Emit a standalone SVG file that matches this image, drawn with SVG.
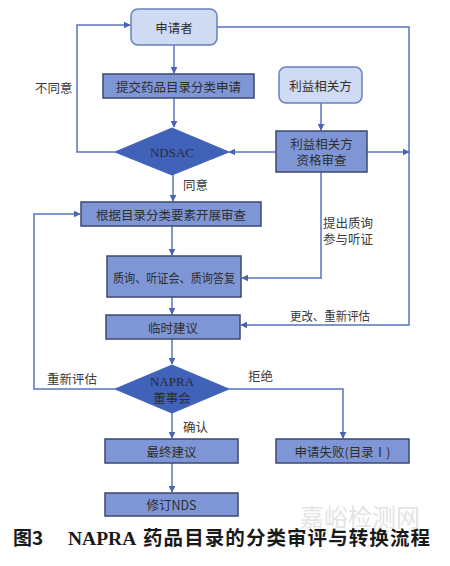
<svg xmlns="http://www.w3.org/2000/svg" width="450" height="566" viewBox="0 0 450 566">
<defs>
<marker id="ah" viewBox="0 0 10 10" refX="9" refY="5" markerWidth="7" markerHeight="7" markerUnits="userSpaceOnUse" orient="auto">
<path d="M0,0 L10,5 L0,10 Z" fill="#4a64b4"/>
</marker>
<style>
.light{fill:#cfdbf2;stroke:#6a7fc0;stroke-width:1.5}
.mid{fill:#7e96d6;stroke:#3b4770;stroke-width:1.5}
.dia{fill:#4062b8;stroke:#4062b8}
.t{font-family:"Noto Sans CJK SC","Liberation Serif",serif;font-size:12.5px;fill:#2f2f2f;text-anchor:middle;dominant-baseline:central}
.tl{font-family:"Noto Sans CJK SC","Liberation Serif",serif;font-size:12.5px;fill:#3a3a3a;dominant-baseline:central}
.en{font-family:"Liberation Serif","Noto Sans CJK SC",serif;font-size:13px;fill:#2a2a3a;text-anchor:middle;dominant-baseline:central}
.ln{fill:none;stroke:#5a73c0;stroke-width:1.5}
</style>
</defs>
<rect width="450" height="566" fill="#ffffff"/>

<g id="connectors">
<path class="ln" d="M174,45 V73" marker-end="url(#ah)"/>
<path class="ln" d="M174,98 V127" marker-end="url(#ah)"/>
<path class="ln" d="M217,27 H409 V325 H241" marker-end="url(#ah)"/>
<path class="ln" d="M321,103 V130" marker-end="url(#ah)"/>
<path class="ln" d="M276,152 H229" marker-end="url(#ah)"/>
<path class="ln" d="M367,152 H409" marker-end="url(#ah)"/>
<path class="ln" d="M115,152 H77 V25 H130" marker-end="url(#ah)"/>
<path class="ln" d="M173,175 V201" marker-end="url(#ah)"/>
<path class="ln" d="M172,226 V255" marker-end="url(#ah)"/>
<path class="ln" d="M321,172 V278 H242" marker-end="url(#ah)"/>
<path class="ln" d="M172,297 V314" marker-end="url(#ah)"/>
<path class="ln" d="M172,339 V364" marker-end="url(#ah)"/>
<path class="ln" d="M115,389 H34 V214 H80" marker-end="url(#ah)"/>
<path class="ln" d="M229,389 H343 V438" marker-end="url(#ah)"/>
<path class="ln" d="M172,413 V438" marker-end="url(#ah)"/>
<path class="ln" d="M172,463 V492" marker-end="url(#ah)"/>
</g>

<g id="labels">
<text class="tl" x="35" y="87">不同意</text>
<text class="tl" x="183" y="184">同意</text>
<text class="tl" x="323" y="222">提出质询</text>
<text class="tl" x="323" y="238">参与听证</text>
<text class="tl" x="290" y="315" textLength="80" lengthAdjust="spacingAndGlyphs">更改、重新评估</text>
<text class="tl" x="47" y="378">重新评估</text>
<text class="tl" x="248" y="375">拒绝</text>
<text class="tl" x="183" y="426">确认</text>
</g>

<g id="applicant">
<rect class="light" x="131" y="9" width="86" height="36" rx="7"/>
<text class="t" x="174" y="27">申请者</text>
</g>
<g id="submit">
<rect class="mid" x="103" y="74" width="151" height="24"/>
<text class="t" x="178.5" y="86">提交药品目录分类申请</text>
</g>
<g id="stakeholder">
<rect class="light" x="279" y="67" width="83" height="36" rx="7"/>
<text class="t" x="320.5" y="85">利益相关方</text>
</g>
<g id="stakeholder-review">
<rect class="mid" x="276" y="131" width="91" height="41"/>
<text class="t" x="321.5" y="143">利益相关方</text>
<text class="t" x="321.5" y="159">资格审查</text>
</g>
<g id="ndsac">
<polygon class="dia" points="172,128 229,152 172,175 115,152"/>
<text class="en" x="172" y="152">NDSAC</text>
</g>
<g id="review">
<rect class="mid" x="81" y="202" width="180" height="24"/>
<text class="t" x="171" y="214">根据目录分类要素开展审查</text>
</g>
<g id="hearing">
<rect class="mid" x="107" y="256" width="134" height="41"/>
<text class="t" x="174" y="277" textLength="122" lengthAdjust="spacingAndGlyphs">质询、听证会、质询答复</text>
</g>
<g id="interim">
<rect class="mid" x="106" y="315" width="134" height="24"/>
<text class="t" x="173" y="327">临时建议</text>
</g>
<g id="napra">
<polygon class="dia" points="172,365 229,389 172,413 115,389"/>
<text class="en" x="172" y="381">NAPRA</text>
<text class="t" x="172" y="397">董事会</text>
</g>
<g id="final">
<rect class="mid" x="105" y="439" width="133" height="24"/>
<text class="t" x="171.5" y="451">最终建议</text>
</g>
<g id="fail">
<rect class="mid" x="276" y="439" width="133" height="24"/>
<text class="t" x="342.5" y="451">申请失败(目录Ⅰ)</text>
</g>
<g id="nds">
<rect class="mid" x="105" y="493" width="133" height="23"/>
<text class="t" x="171.5" y="504.5">修订NDS</text>
</g>

<g id="watermark" opacity="0.35">
<text x="300" y="526" font-family="Noto Sans CJK SC,sans-serif" font-size="24" fill="#b0b0b0">嘉峪检测网</text>
</g>

<g id="caption" font-weight="bold" fill="#1a1a1a">
<text x="13" y="545" font-family="Noto Sans CJK SC,sans-serif" font-size="19">图3</text>
<text x="68" y="545" font-family="Liberation Serif,serif" font-size="19.5">NAPRA</text>
<text x="143" y="545" font-family="Noto Sans CJK SC,sans-serif" font-size="19.5" textLength="287">药品目录的分类审评与转换流程</text>
</g>
</svg>
